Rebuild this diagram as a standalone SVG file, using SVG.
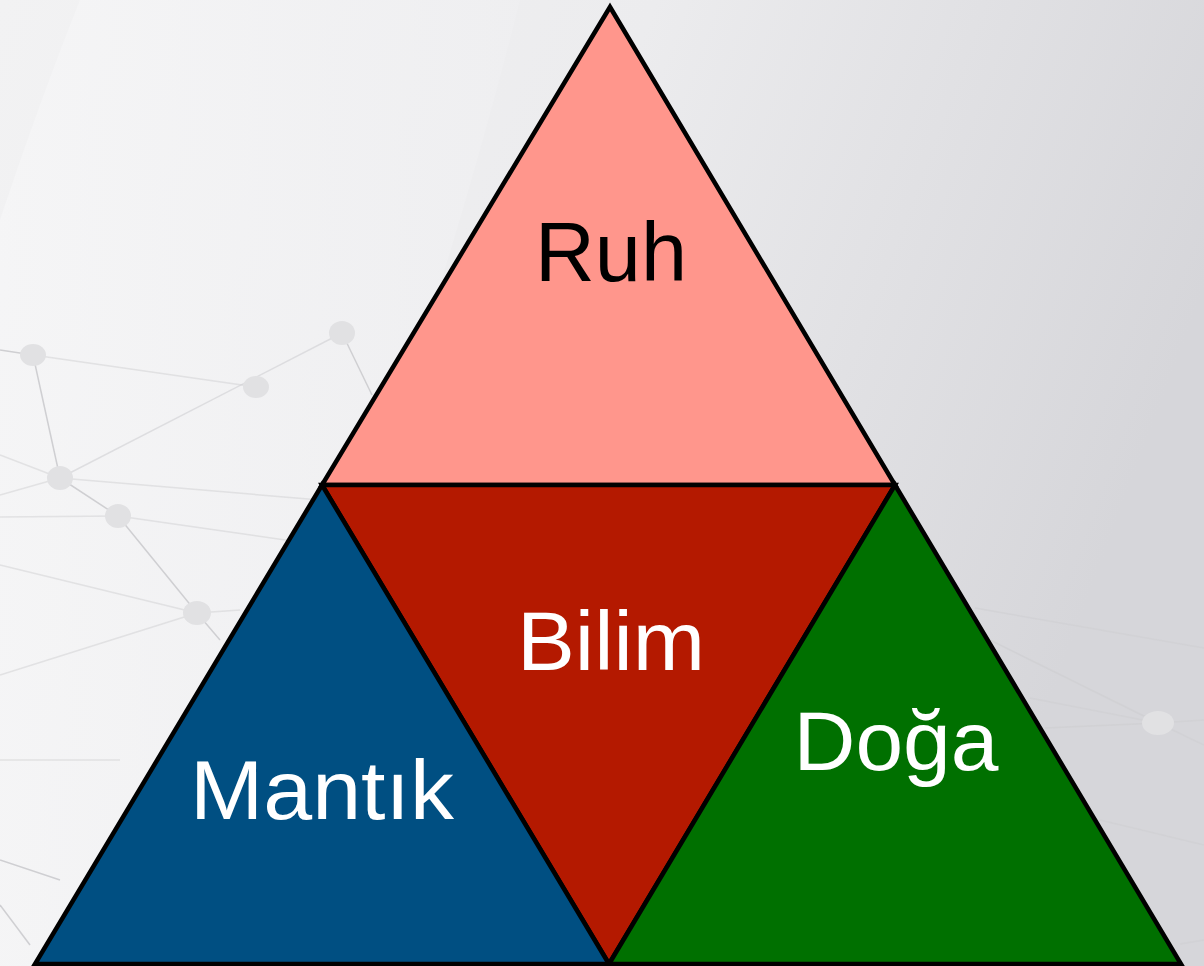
<svg xmlns="http://www.w3.org/2000/svg" width="1204" height="966" viewBox="0 0 1204 966">
<defs>
<linearGradient id="bg" x1="0" y1="0" x2="1" y2="0.3">
<stop offset="0" stop-color="#f2f2f3"/>
<stop offset="0.5" stop-color="#ececee"/>
<stop offset="1" stop-color="#d6d6da"/>
</linearGradient>
<linearGradient id="band" x1="0" y1="0" x2="1" y2="0">
<stop offset="0" stop-color="#f6f6f7"/>
<stop offset="1" stop-color="#efeff1"/>
</linearGradient>
</defs>
<style>
.tri{stroke:#000;stroke-width:4.5;stroke-linejoin:miter}
.lbl{font-family:"Liberation Sans",Arial,Helvetica,sans-serif;font-size:84px;text-anchor:middle}
.net line{stroke:#cfcfd2;stroke-width:1.5}
.net ellipse{fill:#e1e1e3}
</style>
<rect width="1204" height="966" fill="url(#bg)"/>
<path d="M80 0 L520 0 Q420 400 200 966 L0 966 L0 220 Q40 100 80 0 Z" fill="url(#band)" opacity="0.8"/>
<g class="net">
<line x1="0" y1="350" x2="33" y2="355"/>
<line x1="33" y1="355" x2="60" y2="478"/>
<line x1="33" y1="355" x2="256" y2="387" stroke-opacity="0.5"/>
<line x1="60" y1="478" x2="342" y2="333" stroke-opacity="0.6"/>
<line x1="60" y1="478" x2="118" y2="516"/>
<line x1="0" y1="455" x2="60" y2="478" stroke-opacity="0.5"/>
<line x1="0" y1="495" x2="60" y2="478" stroke-opacity="0.5"/>
<line x1="60" y1="478" x2="320" y2="500" stroke-opacity="0.5"/>
<line x1="0" y1="517" x2="118" y2="516" stroke-opacity="0.5"/>
<line x1="118" y1="516" x2="320" y2="545" stroke-opacity="0.5"/>
<line x1="118" y1="516" x2="197" y2="613"/>
<line x1="0" y1="565" x2="197" y2="613" stroke-opacity="0.5"/>
<line x1="0" y1="675" x2="197" y2="613" stroke-opacity="0.5"/>
<line x1="197" y1="613" x2="240" y2="610" stroke-opacity="0.5"/>
<line x1="197" y1="613" x2="220" y2="640"/>
<line x1="342" y1="333" x2="372" y2="395"/>
<line x1="0" y1="760" x2="120" y2="760" stroke-opacity="0.5"/>
<line x1="0" y1="860" x2="60" y2="880"/>
<line x1="0" y1="905" x2="30" y2="945"/>
<line x1="975" y1="608" x2="1204" y2="648" stroke-opacity="0.6"/>
<line x1="990" y1="640" x2="1158" y2="723" stroke-opacity="0.7"/>
<line x1="1030" y1="698" x2="1158" y2="723" stroke-opacity="0.6"/>
<line x1="1045" y1="728" x2="1158" y2="723" stroke-opacity="0.7"/>
<line x1="1158" y1="723" x2="1204" y2="720" stroke-opacity="0.6"/>
<line x1="1158" y1="723" x2="1204" y2="745" stroke-opacity="0.6"/>
<line x1="1100" y1="820" x2="1204" y2="845" stroke-opacity="0.6"/>
<line x1="1180" y1="944" x2="1204" y2="940" stroke-opacity="0.6"/>
<ellipse cx="33" cy="355" rx="13" ry="11"/>
<ellipse cx="60" cy="478" rx="13" ry="12"/>
<ellipse cx="118" cy="516" rx="13" ry="12"/>
<ellipse cx="197" cy="613" rx="14" ry="12"/>
<ellipse cx="256" cy="387" rx="13" ry="11"/>
<ellipse cx="342" cy="333" rx="13" ry="12"/>
<ellipse cx="1158" cy="723" rx="16" ry="12" fill="#c9c9cc"/>
</g>
<g id="ruh">
<polygon class="tri" points="610,7 322,485 895,485" fill="#ff968c"/>
<text class="lbl" x="611" y="281" fill="#000" textLength="152" lengthAdjust="spacingAndGlyphs">Ruh</text>
</g>
<g id="bilim">
<polygon class="tri" points="322,485 895,485 609,964" fill="#b41900"/>
<text class="lbl" x="611" y="670" fill="#fff" textLength="188" lengthAdjust="spacingAndGlyphs">Bilim</text>
</g>
<g id="mantik">
<polygon class="tri" points="322,485 35,964 609,964" fill="#004f82"/>
<text class="lbl" x="322" y="819" fill="#fff" textLength="264" lengthAdjust="spacingAndGlyphs">Mantık</text>
</g>
<g id="doga">
<polygon class="tri" points="895,485 609,964 1181,964" fill="#007000"/>
<text class="lbl" x="896" y="770" fill="#fff" textLength="205" lengthAdjust="spacingAndGlyphs">Doğa</text>
</g>
<g id="connectors"></g>
</svg>
